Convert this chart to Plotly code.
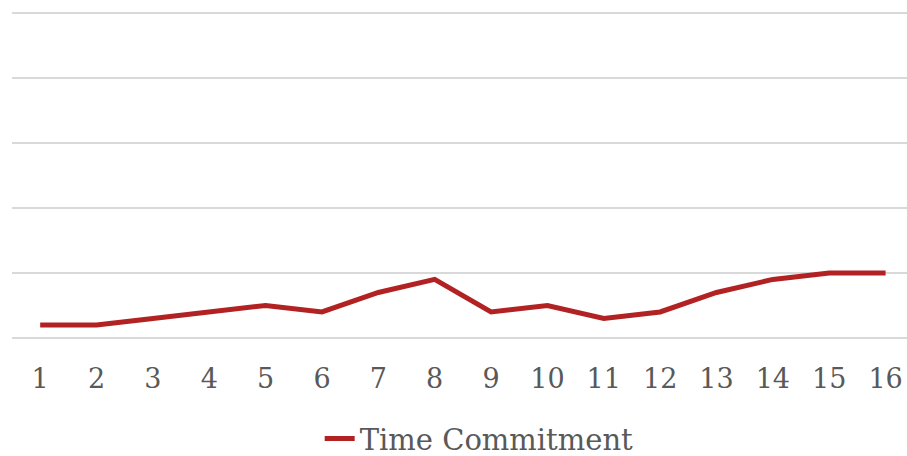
import plotly.graph_objects as go

categories = [str(i) for i in range(1, 17)]
time_commitment = [0.2, 0.2, 0.3, 0.4, 0.5, 0.4, 0.7, 0.9, 0.4, 0.5, 0.3, 0.4, 0.7, 0.9, 1.0, 1.0]
y_ticks = [0, 1, 2, 3, 4, 5]

FONT = "DejaVu Serif"
GREY = "#595959"

fig = go.Figure()
fig.add_trace(go.Scatter(
    x=categories, y=time_commitment, mode="lines", name="Time Commitment",
    line=dict(color="#B22222", width=5),
))

fig.update_layout(
    width=907, height=456,
    margin=dict(l=12, r=0, t=10, b=118, autoexpand=False),
    paper_bgcolor="white", plot_bgcolor="white",
    font=dict(family=FONT, color=GREY, size=26),
    showlegend=True,
    legend=dict(orientation="h", x=0.522, xanchor="center", y=-0.307, yanchor="middle",
                yref="paper", font=dict(size=29, color=GREY, family=FONT)),
    xaxis=dict(type="category", range=[-0.5, 15.38], showgrid=False, zeroline=False,
               automargin=False, showline=False, ticks="", ticklabelstandoff=22,
               tickfont=dict(size=27, color=GREY, family=FONT)),
    yaxis=dict(range=[0, 5.04], tickvals=y_ticks, showticklabels=False, showgrid=True,
               automargin=False,
               gridcolor="#D9D9D9", gridwidth=2, zeroline=True, zerolinecolor="#D9D9D9",
               zerolinewidth=2, showline=False),
)

fig.write_html("out.html", config={"displayModeBar": False},
               post_script="document.body.style.margin='0';")
